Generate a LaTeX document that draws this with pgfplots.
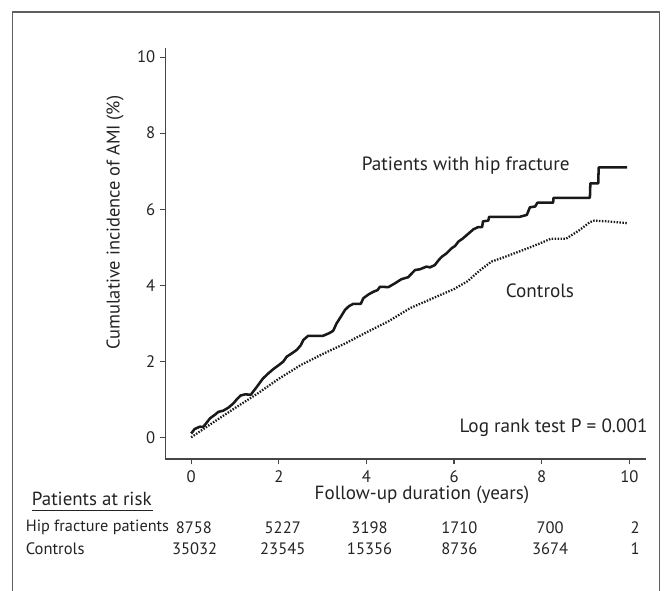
\documentclass[border=0pt]{standalone}
\usepackage{pgfplots}
\pgfplotsset{compat=1.18}
\usepackage{fontspec}
\setmainfont{PT Sans}
\definecolor{axgray}{RGB}{70,70,70}
\definecolor{framegray}{RGB}{95,95,95}
\definecolor{txt}{RGB}{35,35,35}
\definecolor{curve}{RGB}{25,25,25}
\begin{document}
\begin{tikzpicture}
\begin{axis}[
  at={(124pt,99pt)}, anchor=south west,
  width=360.5pt, height=308.25pt, scale only axis,
  xmin=-0.59, xmax=10.38, ymin=-0.57, ymax=10.24,
  axis x line=bottom, axis y line=left,
  axis line style={-, axgray, line width=1.1pt},
  xtick={0,2,4,6,8,10}, ytick={0,2,4,6,8,10},
  tick align=outside, major tick length=4pt,
  tick style={axgray, line width=0.9pt},
  tick label style={font=\fontsize{12.5}{14}\selectfont, text=txt},
  /pgf/number format/assume math mode=true,
  xticklabel style={inner sep=1pt, yshift=-3.3pt},
  xlabel={Follow-up duration (years)},
  ylabel={Cumulative incidence of AMI (\%)},
  every axis x label/.style={at={(rel axis cs:0.534,-0.087)}, anchor=center, inner sep=0pt, font=\fontsize{14.3}{16}\selectfont, text=txt},
  every axis y label/.style={at={(rel axis cs:-0.1046,0.5754)}, anchor=center, rotate=90, font=\fontsize{13.8}{16}\selectfont, text=txt},
  clip=false,
]
% Patients with hip fracture
\addplot[curve, line width=1.9pt, line join=round] coordinates {
(0,0.10) (0.08,0.22) (0.2,0.28) (0.27,0.27) (0.35,0.38) (0.43,0.50) (0.55,0.60)
(0.62,0.67) (0.73,0.70) (0.85,0.78) (0.96,0.89) (1.05,1.01) (1.13,1.10) (1.23,1.13)
(1.36,1.12) (1.5,1.33) (1.64,1.55) (1.75,1.67) (1.87,1.79) (2.0,1.90) (2.1,1.99)
(2.18,2.12) (2.3,2.21) (2.41,2.30) (2.5,2.42) (2.56,2.56) (2.67,2.67) (3.01,2.67)
(3.15,2.74) (3.24,2.80) (3.32,3.00) (3.42,3.18) (3.51,3.35) (3.6,3.45) (3.7,3.51)
(3.87,3.51) (3.93,3.66) (4.05,3.76) (4.16,3.83) (4.25,3.87) (4.31,3.96) (4.5,3.95)
(4.65,4.05) (4.8,4.16) (4.95,4.21) (5.11,4.40) (5.22,4.42) (5.37,4.49) (5.45,4.47)
(5.56,4.53) (5.64,4.65) (5.72,4.75) (5.83,4.84) (5.94,4.97) (6.02,5.03) (6.10,5.15)
(6.2,5.23) (6.29,5.32) (6.44,5.47) (6.55,5.53) (6.64,5.53) (6.66,5.68) (6.78,5.70)
(6.80,5.80) (7.50,5.80) (7.66,5.85) (7.73,6.05) (7.85,6.07) (7.90,6.17) (8.26,6.17)
(8.27,6.30) (9.10,6.30) (9.11,6.68) (9.29,6.68) (9.30,7.10) (9.95,7.10)
};
% Controls
\addplot[curve, line width=1.7pt, dash pattern=on 1.1pt off 1.1pt] coordinates {
(0,0.00) (0.5,0.39) (1.0,0.77) (1.5,1.14) (2.0,1.54) (2.5,1.90) (3.0,2.19)
(3.5,2.46) (4.0,2.76) (4.5,3.05) (5.0,3.40) (5.5,3.65) (6.0,3.90) (6.3,4.10)
(6.6,4.40) (6.85,4.62) (7.1,4.72) (7.4,4.85) (7.7,4.98) (8.0,5.12) (8.2,5.22)
(8.55,5.22) (8.85,5.44) (9.1,5.66) (9.2,5.70) (9.6,5.67) (9.97,5.63)
};
\begin{scope}[every node/.style={text=txt, font=\fontsize{14.4}{16}\selectfont, inner sep=0pt}]
\node[anchor=west] at (axis cs:3.89,7.15) {Patients with hip fracture};
\node[anchor=center] at (axis cs:7.96,3.86) {Controls};
\node[anchor=east] at (axis cs:10.42,0.245) {Log rank test P = 0.001};
\node[anchor=west, font=\fontsize{14.2}{16}\selectfont] at (axis cs:-3.64,-1.62) {Patients at risk};
\end{scope}
\begin{scope}[every node/.style={text=txt, font=\fontsize{12.4}{14}\selectfont, inner sep=0pt}]
\node[anchor=west, font=\fontsize{12.2}{14}\selectfont] at (axis cs:-3.78,-2.38) {Hip fracture patients};
\node[anchor=west] at (axis cs:-3.78,-2.92) {Controls};
\node at (axis cs:0.06,-2.38) {8758};
\node at (axis cs:2.09,-2.38) {5227};
\node at (axis cs:4.07,-2.38) {3198};
\node at (axis cs:6.12,-2.38) {1710};
\node at (axis cs:8.19,-2.38) {700};
\node at (axis cs:10.13,-2.38) {2};
\node at (axis cs:0.08,-2.92) {35032};
\node at (axis cs:2.09,-2.92) {23545};
\node at (axis cs:4.07,-2.92) {15356};
\node at (axis cs:6.12,-2.92) {8736};
\node at (axis cs:8.19,-2.92) {3674};
\node at (axis cs:10.13,-2.92) {1};
\end{scope}
\draw[txt, line width=0.8pt] (axis cs:-3.64,-1.93) -- (axis cs:-0.87,-1.93);
\end{axis}
% outer frame (bottom edge lies below the page)
\draw[framegray, line width=0.9pt] (9.5pt,-5pt) -- (9.5pt,434.25pt) -- (494.6pt,434.25pt) -- (494.6pt,-5pt);
\pgfresetboundingbox
\useasboundingbox (0,0) rectangle (498.75pt,443.25pt);
\end{tikzpicture}
\end{document}
